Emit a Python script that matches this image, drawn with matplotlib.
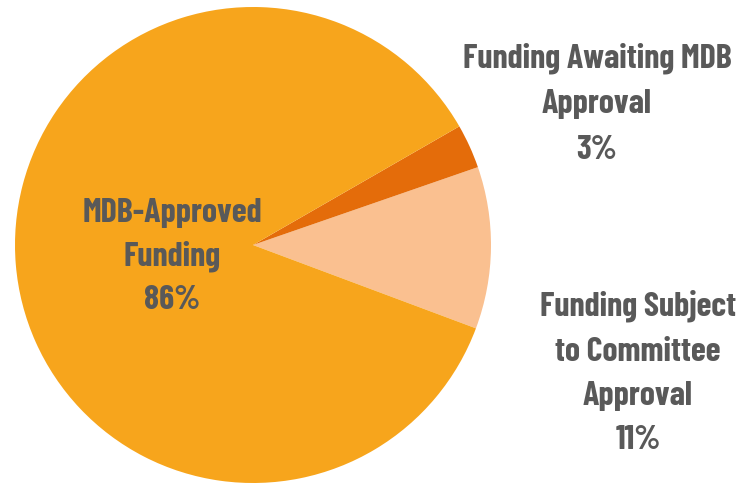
import matplotlib
matplotlib.use("Agg")
import matplotlib.pyplot as plt

categories = ["Funding Subject to Committee Approval", "Funding Awaiting MDB Approval", "MDB-Approved Funding"]
values = [11, 3, 86]
colors = ["#FAC090", "#E46C0A", "#F7A51C"]

# label lines and their centers in pixel coords (x, y from top)
label_lines = [
    (["Funding Subject", "to Committee", "Approval", "11%"], 638, [306, 352, 396, 440]),
    (["Funding Awaiting MDB", "Approval", "3%"], 597, [58, 104, 150]),
    (["MDB-Approved", "Funding", "86%"], 172, [213, 256, 300]),
]

W, H = 739, 483
fig = plt.figure(figsize=(W / 100, H / 100), dpi=100)
cx, cy, r = 253, 245, 238
ax = fig.add_axes([(cx - r) / W, (H - cy - r) / H, 2 * r / W, 2 * r / H])
ax.pie(values, colors=colors, startangle=-20.5, counterclock=True, radius=1,
       wedgeprops=dict(linewidth=0))
ax.set_xlim(-1, 1)
ax.set_ylim(-1, 1)
ax.set_aspect("equal")
ax.axis("off")

for lines, x, ys in label_lines:
    for line, y in zip(lines, ys):
        fig.text(x / W, 1 - y / H, line, ha="center", va="center",
                 fontsize=24.5, fontweight="bold", color="#595959",
                 family=["Barlow Condensed", "DejaVu Sans"])

fig.savefig("out.png", dpi=100)
